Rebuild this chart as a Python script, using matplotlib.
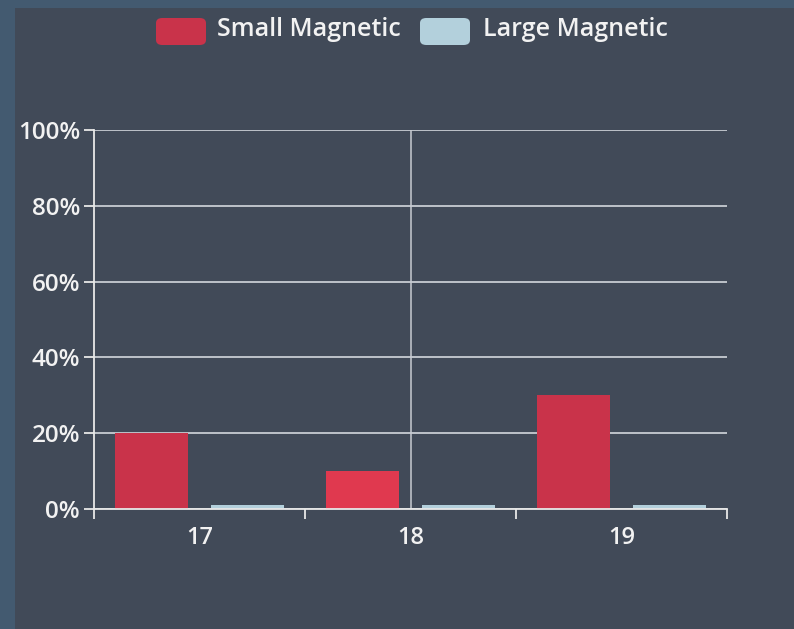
import numpy as np
import matplotlib.pyplot as plt
from matplotlib.patches import Rectangle, FancyBboxPatch

categories = ['17', '18', '19']
small_magnetic = [20, 10, 30]
large_magnetic = [1, 1, 1]
small_colors = ['#c9334a', '#e0394f', '#c9334a']
large_color = '#b3d0dc'
yticks = [0, 20, 40, 60, 80, 100]

plt.rcParams['font.family'] = ['Open Sans', 'DejaVu Sans']

fig = plt.figure(figsize=(7.94, 6.29), dpi=100)
fig.patch.set_facecolor('#435a70')
fig.patches.append(Rectangle((15 / 794, 0), 1, 1 - 8 / 629, transform=fig.transFigure,
                             facecolor='#414a58', edgecolor='none', zorder=-5))

ax = fig.add_axes([94 / 794, 1 - 509 / 629, (727 - 94) / 794, (509 - 130) / 629])
ax.set_facecolor('none')
ax.set_zorder(1)

x = np.arange(len(categories))
w = 0.345
ax.bar(x - 0.055 - w / 2, small_magnetic, w, color=small_colors, zorder=3)
ax.bar(x + 0.055 + w / 2, large_magnetic, w, color=large_color, zorder=3)

ax.set_xlim(-0.5, len(categories) - 0.5)
ax.set_ylim(0, 100)
ax.set_yticks(yticks)
ax.set_yticklabels([f'{v}%' for v in yticks])
ax.yaxis.grid(True, color='#c8ccd2', linewidth=1.3, zorder=1)
ax.set_axisbelow(True)
ax.axvline(1, color='#c8ccd2', linewidth=1.1, zorder=1)

ax.set_xticks(x)
ax.set_xticklabels(categories)
ax.set_xticks(np.arange(len(categories) + 1) - 0.5, minor=True)
ax.tick_params(axis='x', which='major', length=0, pad=12, labelsize=17, labelcolor='#f2f2f2')
ax.tick_params(axis='x', which='minor', length=7, width=1.3, color='#e8e8e8', direction='out')
ax.tick_params(axis='y', length=7, width=1.3, color='#e8e8e8', labelsize=17.5,
               labelcolor='#f2f2f2', pad=3)
for lab in ax.get_xticklabels() + ax.get_yticklabels():
    lab.set_fontweight('semibold')

for s in ['top', 'right']:
    ax.spines[s].set_visible(False)
for s in ['left', 'bottom']:
    ax.spines[s].set_color('#e8e8e8')
    ax.spines[s].set_linewidth(1.3)
    ax.spines[s].set_zorder(4)

# legend
legend_items = [('Small Magnetic', '#c9334a', 156, 217), ('Large Magnetic', large_color, 420, 483)]
for label, col, sx, tx in legend_items:
    fig.patches.append(FancyBboxPatch((sx / 794, 1 - 45 / 629), 50 / 794, 27 / 629,
                                      boxstyle='round,pad=0,rounding_size=0.008',
                                      transform=fig.transFigure, facecolor=col,
                                      edgecolor='none', zorder=2))
    fig.text(tx / 794, 1 - 30 / 629, label, color='#f2f2f2', fontsize=18,
             fontweight='semibold', va='center', ha='left')

fig.savefig('out.png', dpi=100, facecolor=fig.get_facecolor())
